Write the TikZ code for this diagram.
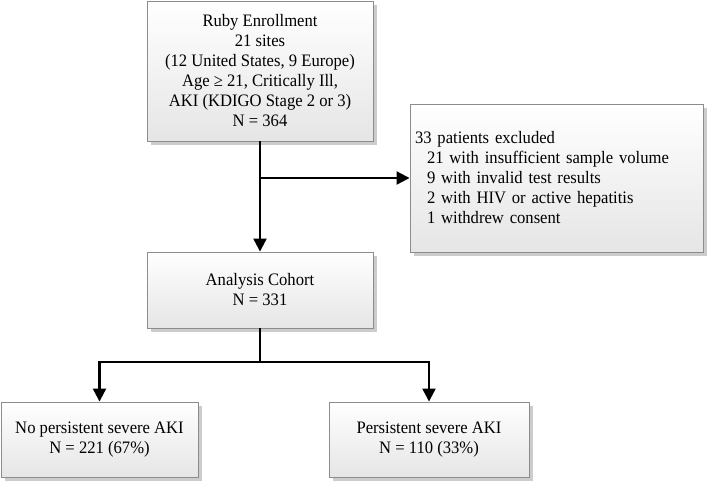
\documentclass[tikz,border=0pt]{standalone}
\usepackage{fontspec}
\setmainfont{Liberation Serif}[FakeStretch=0.95]
\usetikzlibrary{arrows.meta,shadows}
\begin{document}
\begin{tikzpicture}[x=1pt, y=-1pt,
  box/.style={draw=black!45, line width=0.9pt, top color=white, bottom color=black!10,
    drop shadow={shadow xshift=3.5pt, shadow yshift=-3.5pt, fill=black!20, opacity=1},
    font=\fontsize{17.5}{20}\selectfont, align=center, inner sep=0pt},
  arr/.style={line width=2.2pt, -{Triangle[length=13pt,width=13pt]}}]
\useasboundingbox (0,0) rectangle (709,483);
% boxes
\node[box, minimum width=226pt, minimum height=140pt] (enroll) at (260,71)
  {Ruby Enrollment\\21 sites\\(12 United States, 9 Europe)\\Age ≥ 21, Critically Ill,\\AKI (KDIGO Stage 2 or 3)\\N = 364};
\node[box, minimum width=293pt, minimum height=148pt, text width=283pt, align=left] (excl) at (556.5,178)
  {33 patients excluded\\
   \hspace*{12pt}21 with insufficient sample volume\\
   \hspace*{12pt}9 with invalid test results\\
   \hspace*{12pt}2 with HIV or active hepatitis\\
   \hspace*{12pt}1 withdrew consent};
\node[box, minimum width=226pt, minimum height=76pt] (cohort) at (260,290)
  {Analysis Cohort\\N = 331};
\node[box, minimum width=197pt, minimum height=75pt] (noaki) at (99.5,439.5)
  {No persistent severe AKI\\N = 221 (67\%)};
\node[box, minimum width=200pt, minimum height=75pt] (aki) at (429,439.5)
  {Persistent severe AKI\\N = 110 (33\%)};
% connectors
\coordinate (trunk) at (260,178);
\coordinate (fork) at (260,362);
\draw[arr] (enroll) -- (cohort);
\draw[arr] (trunk) -- (excl.west);
\draw[line width=2.2pt] (cohort) -- (fork);
\draw[arr] (fork) -| (noaki.north);
\draw[arr] (fork) -| (aki.north);
\end{tikzpicture}
\end{document}
